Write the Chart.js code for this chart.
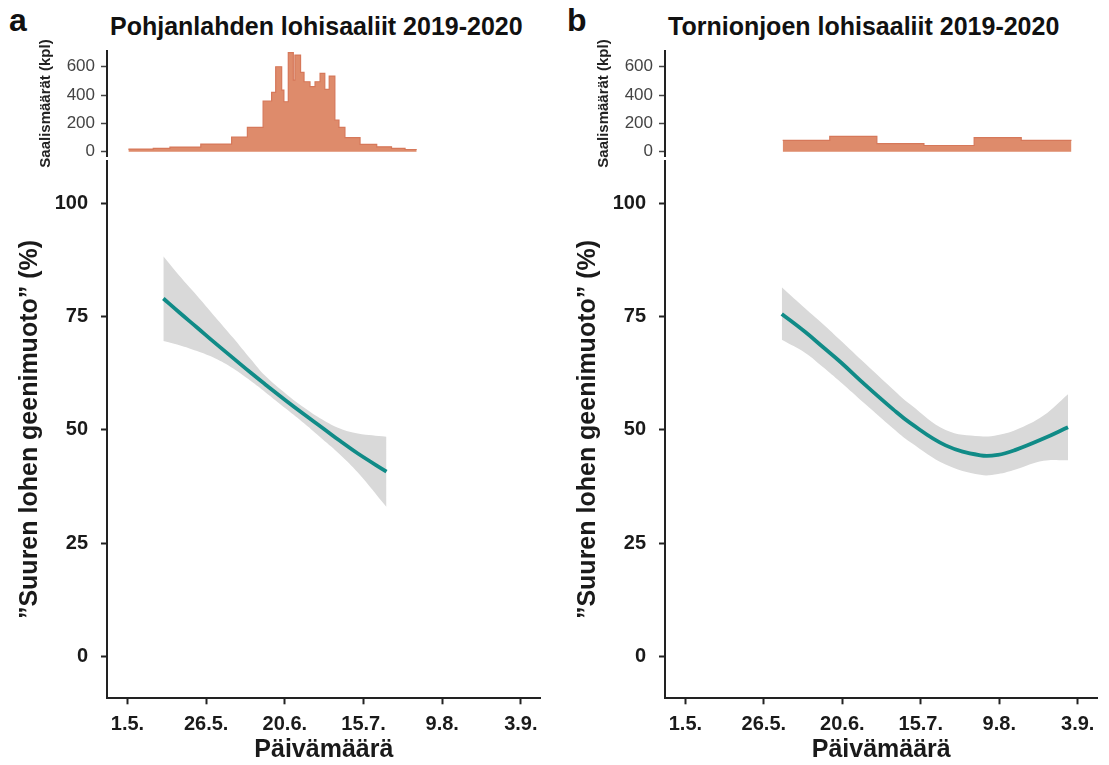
<!DOCTYPE html>
<html>
<head>
<meta charset="utf-8">
<script src="https://cdn.jsdelivr.net/npm/chart.js@4.4.1/dist/chart.umd.min.js"></script>
<style>
body { margin: 0; background: #fff; width: 1109px; height: 765px; position: relative; overflow: hidden; font-family: "Liberation Sans", Arial, sans-serif; }
canvas { position: absolute; }
.lbl { position: absolute; font-weight: bold; color: #111; white-space: nowrap; line-height: 24px; }
</style>
</head>
<body>
<div class="lbl" style="left:9px; top:8px; font-size:32px">a</div>
<div class="lbl" style="left:567px; top:8px; font-size:32px">b</div>
<div class="lbl" style="left:110px; top:14px; font-size:25px">Pohjanlahden lohisaaliit 2019-2020</div>
<div class="lbl" style="left:668px; top:14px; font-size:25px">Tornionjoen lohisaaliit 2019-2020</div>

<canvas id="histA" width="560" height="185" style="left:0; top:0"></canvas>
<canvas id="mainA" width="560" height="615" style="left:0; top:150px"></canvas>
<canvas id="histB" width="551" height="185" style="left:558px; top:0"></canvas>
<canvas id="mainB" width="551" height="615" style="left:558px; top:150px"></canvas>

<script>
// x = days since 1 May
var tickDays = [0, 25, 50, 75, 100, 125];
var tickLabels = ['1.5.', '26.5.', '20.6.', '15.7.', '9.8.', '3.9.'];
var histTicks = [0, 200, 400, 600];
var pctTicks = [0, 25, 50, 75, 100];

// Pohjanlahti catch histogram (bin edges in days, counts)
var binsA = [0.3, 8.2, 13.5, 23.3, 33.1, 38.1, 43.1, 45.8, 47.1, 49.0, 49.7, 51.1, 52.7, 53.2, 55.0,
             56.1, 58.0, 59.6, 61.2, 62.7, 64.1, 65.9, 67.2, 69.1, 73.9, 79.2, 83.9, 88.2, 91.9];
var catchA = [19, 24, 33, 54, 104, 172, 358, 419, 600, 435, 353, 699, 506, 682,
              560, 494, 459, 494, 553, 440, 534, 224, 172, 99, 52, 35, 24, 16];

// Tornionjoki catch histogram (half-month bins)
var binsB = [31, 46, 61, 76, 92, 107, 123];
var catchB = [80, 108, 58, 44, 100, 80];

// fitted share and confidence band, Pohjanlahti
var daysA  = [11.4, 16.5, 22.1, 27.8, 33.5, 39.2, 43.7, 50.5, 56.2, 61.9, 67.5, 73.2, 82.3];
var fitA   = [79.0, 75.9, 72.6, 69.2, 65.9, 62.6, 60.1, 56.4, 53.4, 50.5, 47.6, 44.8, 40.8];
var upperA = [88.3, 84.0, 79.6, 75.0, 70.4, 65.6, 62.0, 57.9, 54.9, 52.3, 50.3, 49.2, 48.5];
var lowerA = [69.6, 68.7, 67.4, 65.8, 63.6, 60.8, 58.4, 54.6, 51.4, 48.0, 44.6, 40.6, 33.0];

// fitted share and confidence band, Tornionjoki
var daysB  = [30.7, 38.2, 43.8, 49.4, 57.2, 66.1, 71.7, 82.9, 94.0, 99.6, 105.2, 114.1, 121.9];
var fitB   = [75.6, 71.6, 68.3, 65.0, 60.0, 54.6, 51.5, 46.6, 44.4, 44.5, 45.6, 48.1, 50.6];
var upperB = [81.5, 76.8, 73.4, 69.8, 64.7, 59.0, 55.6, 50.0, 48.6, 48.9, 50.0, 53.2, 57.9];
var lowerB = [69.9, 67.0, 63.9, 60.6, 55.8, 50.4, 47.3, 42.4, 40.1, 40.3, 41.3, 43.2, 43.3];

var FONT = '"Liberation Sans", Arial, sans-serif';
var xMin = -6.5, xMax = 131.3;

function pts(xs, ys) {
    return xs.map(function(x, i) { return {x: x, y: ys[i]}; });
}

function histPts(edges, counts) {
    // left edge of each bin + closing point at the last edge
    return edges.map(function(e, i) {
        return {x: e, y: counts[Math.min(i, counts.length - 1)]};
    });
}

// drop the extra room Chart.js keeps for half tick labels
function noPad(s) {
    s.paddingTop = 0; s.paddingBottom = 0; s.paddingLeft = 0; s.paddingRight = 0;
}

function histChart(id, edges, counts, padRight) {
    return new Chart(document.getElementById(id), {
        type: 'line',
        data: {
            datasets: [{
                data: histPts(edges, counts),
                stepped: 'before',
                fill: 'origin',
                backgroundColor: '#DE8B6B',
                borderColor: '#D6785A',
                borderWidth: 1.2,
                pointRadius: 0
            }]
        },
        options: {
            responsive: false,
            animation: false,
            events: [],
            layout: { padding: { top: 51, bottom: 29, left: 0, right: padRight } },
            plugins: { legend: { display: false }, tooltip: { enabled: false } },
            scales: {
                x: { type: 'linear', min: xMin, max: xMax, display: false },
                y: {
                    min: -30, max: 711,
                    afterBuildTicks: function(s) { s.ticks = histTicks.map(function(v) { return {value: v}; }); },
                    afterFit: function(s) { s.width = 107; noPad(s); },
                    ticks: { color: '#444', padding: 6, font: { family: FONT, size: 17 } },
                    grid: { drawOnChartArea: false, tickLength: 6, tickWidth: 1.5, tickColor: '#444' },
                    border: { color: '#222', width: 2 },
                    title: {
                        display: true, text: 'Saalismäärät (kpl)', color: '#222',
                        font: { family: FONT, size: 15, weight: 'bold' },
                        padding: { top: 37, bottom: 0 }
                    }
                }
            }
        }
    });
}

function mainChart(id, days, fit, lower, upper, padRight) {
    return new Chart(document.getElementById(id), {
        type: 'line',
        data: {
            datasets: [
                // first dataset is painted last, so the fitted line sits on top of the band
                { data: pts(days, fit), fill: false, borderColor: '#108B87', borderWidth: 3.8,
                  pointRadius: 0, tension: 0.4 },
                { data: pts(days, upper), fill: '+1', backgroundColor: '#D9D9D9', borderWidth: 0,
                  borderColor: 'rgba(0,0,0,0)', pointRadius: 0, tension: 0.4 },
                { data: pts(days, lower), fill: false, borderWidth: 0, borderColor: 'rgba(0,0,0,0)',
                  pointRadius: 0, tension: 0.4 }
            ]
        },
        options: {
            responsive: false,
            animation: false,
            events: [],
            layout: { padding: { top: 10.7, bottom: 0, left: 0, right: padRight } },
            plugins: { legend: { display: false }, tooltip: { enabled: false } },
            scales: {
                x: {
                    type: 'linear', min: xMin, max: xMax,
                    afterBuildTicks: function(s) { s.ticks = tickDays.map(function(v) { return {value: v}; }); },
                    afterFit: function(s) { s.height = 66.7; noPad(s); },
                    ticks: {
                        color: '#1a1a1a', padding: 8, maxRotation: 0, autoSkip: false,
                        font: { family: FONT, size: 20, weight: 'bold' },
                        callback: function(v) { return tickLabels[tickDays.indexOf(v)]; }
                    },
                    grid: { drawOnChartArea: false, tickLength: 6, tickWidth: 2, tickColor: '#222' },
                    border: { color: '#222', width: 2 },
                    title: {
                        display: true, text: 'Päivämäärä', color: '#1a1a1a',
                        font: { family: FONT, size: 25, weight: 'bold' },
                        padding: { top: 0, bottom: 0 }
                    }
                },
                y: {
                    min: -9.2, max: 109.4,
                    afterBuildTicks: function(s) { s.ticks = pctTicks.map(function(v) { return {value: v}; }); },
                    afterFit: function(s) { s.width = 107; noPad(s); },
                    ticks: { color: '#1a1a1a', padding: 13, font: { family: FONT, size: 20, weight: 'bold' } },
                    grid: { drawOnChartArea: false, tickLength: 6, tickWidth: 2, tickColor: '#222' },
                    border: { color: '#222', width: 2 },
                    title: {
                        display: true, text: '”Suuren lohen geenimuoto” (%)', color: '#1a1a1a',
                        font: { family: FONT, size: 25, weight: 'bold' },
                        padding: { top: 15, bottom: 0 }
                    }
                }
            }
        }
    });
}

histChart('histA', binsA, catchA, 19.3);
mainChart('mainA', daysA, fitA, lowerA, upperA, 19.3);
histChart('histB', binsB, catchB, 11.5);
mainChart('mainB', daysB, fitB, lowerB, upperB, 11.5);
</script>
</body>
</html>
